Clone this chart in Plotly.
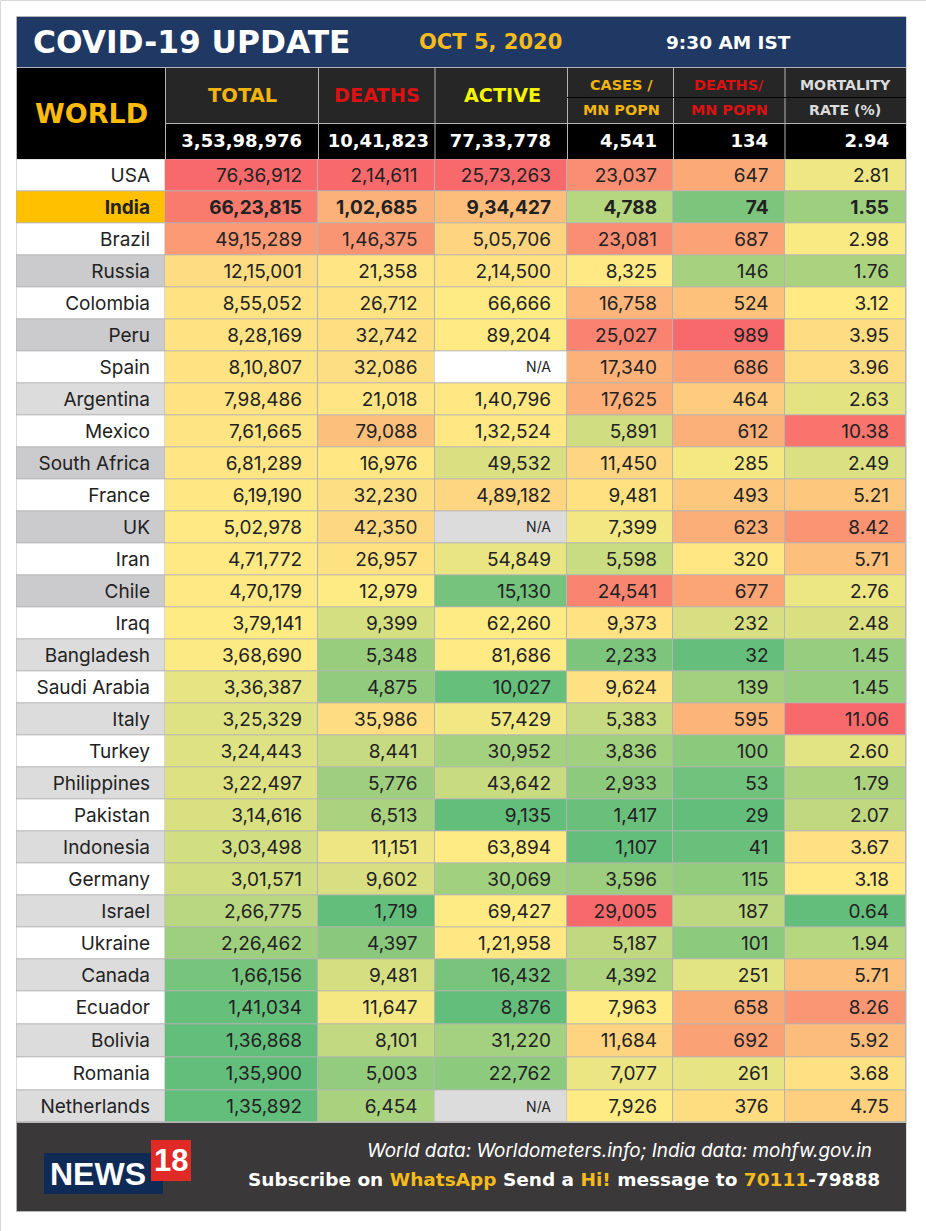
import numpy as np
import plotly.graph_objects as go

countries = ['USA', 'India', 'Brazil', 'Russia', 'Colombia', 'Peru', 'Spain', 'Argentina', 'Mexico',
             'South Africa', 'France', 'UK', 'Iran', 'Chile', 'Iraq', 'Bangladesh', 'Saudi Arabia', 'Italy',
             'Turkey', 'Philippines', 'Pakistan', 'Indonesia', 'Germany', 'Israel', 'Ukraine', 'Canada',
             'Ecuador', 'Bolivia', 'Romania', 'Netherlands']
total = ['76,36,912', '66,23,815', '49,15,289', '12,15,001', '8,55,052', '8,28,169', '8,10,807', '7,98,486',
         '7,61,665', '6,81,289', '6,19,190', '5,02,978', '4,71,772', '4,70,179', '3,79,141', '3,68,690',
         '3,36,387', '3,25,329', '3,24,443', '3,22,497', '3,14,616', '3,03,498', '3,01,571', '2,66,775',
         '2,26,462', '1,66,156', '1,41,034', '1,36,868', '1,35,900', '1,35,892']
deaths = ['2,14,611', '1,02,685', '1,46,375', '21,358', '26,712', '32,742', '32,086', '21,018', '79,088',
          '16,976', '32,230', '42,350', '26,957', '12,979', '9,399', '5,348', '4,875', '35,986', '8,441',
          '5,776', '6,513', '11,151', '9,602', '1,719', '4,397', '9,481', '11,647', '8,101', '5,003', '6,454']
active = ['25,73,263', '9,34,427', '5,05,706', '2,14,500', '66,666', '89,204', 'N/A', '1,40,796', '1,32,524',
          '49,532', '4,89,182', 'N/A', '54,849', '15,130', '62,260', '81,686', '10,027', '57,429', '30,952',
          '43,642', '9,135', '63,894', '30,069', '69,427', '1,21,958', '16,432', '8,876', '31,220', '22,762',
          'N/A']
cases_mn = ['23,037', '4,788', '23,081', '8,325', '16,758', '25,027', '17,340', '17,625', '5,891', '11,450',
            '9,481', '7,399', '5,598', '24,541', '9,373', '2,233', '9,624', '5,383', '3,836', '2,933', '1,417',
            '1,107', '3,596', '29,005', '5,187', '4,392', '7,963', '11,684', '7,077', '7,926']
deaths_mn = ['647', '74', '687', '146', '524', '989', '686', '464', '612', '285', '493', '623', '320', '677',
             '232', '32', '139', '595', '100', '53', '29', '41', '115', '187', '101', '251', '658', '692',
             '261', '376']
mortality = ['2.81', '1.55', '2.98', '1.76', '3.12', '3.95', '3.96', '2.63', '10.38', '2.49', '5.21', '8.42',
             '5.71', '2.76', '2.48', '1.45', '1.45', '11.06', '2.60', '1.79', '2.07', '3.67', '3.18', '0.64',
             '1.94', '5.71', '8.26', '5.92', '3.68', '4.75']
world_totals = ['3,53,98,976', '10,41,823', '77,33,778', '4,541', '134', '2.94']
columns = [total, deaths, active, cases_mn, deaths_mn, mortality]

# 0 white, 1 dark grey, 2 light grey, 3 india amber
label_shade = [0, 3, 0, 1, 0, 1, 0, 2, 0, 1, 0, 1, 0, 1, 0, 2, 0, 2, 0, 2, 0, 2, 0, 2, 0, 2, 0, 2, 0, 2]
na_shade = {'Spain': 0, 'UK': 2, 'Netherlands': 2}
shades = ['#ffffff', '#cbcbcd', '#dcdcdc', '#ffc000']

col_edges = [16.5, 165, 318, 434.5, 567, 673, 784.5, 906]
row_heights = [32] * 26 + [33.2, 33, 33.2, 31.6]
row_edges = list(159.3 + np.concatenate([[0], np.cumsum(row_heights)]))
text_pad = [16, 17, 16, 16, 16, 17]
total_ends = [302, 429, 551, 657, 768, 889]
row_mid = [(row_edges[i] + row_edges[i + 1]) / 2 + 1.5 for i in range(len(countries))]

FONT = 'Inter'
HEAD = 'DejaVu Sans'
GOLD = '#f5bb1a'
GRID = '#b4b4b4'


def to_num(s):
    return np.nan if s == 'N/A' else float(s.replace(',', ''))


def excel_scale(vals):
    # same thing as excel's green/yellow/red 3 colour scale, run per column
    v = np.array([to_num(s) for s in vals])
    lo, mid, hi = np.nanmin(v), np.nanmedian(v), np.nanmax(v)
    return np.where(v >= mid, (v - mid) / (hi - mid), (v - mid) / (mid - lo))


z = np.array([excel_scale(c) for c in columns]).T
z = [[None if np.isnan(x) else float(x) for x in row] for row in z]

base = [[label_shade[i]] + [None] * 6 for i in range(len(countries))]
for i, c in enumerate(countries):
    if c in na_shade:
        base[i][3] = na_shade[c]

fig = go.Figure()

fig.add_trace(go.Heatmap(z=base, x=col_edges, y=row_edges, zmin=0, zmax=3, showscale=False, xgap=1, ygap=1,
                         colorscale=[[0, shades[0]], [0.33, shades[0]], [0.33, shades[1]], [0.66, shades[1]],
                                     [0.66, shades[2]], [0.99, shades[2]], [0.99, shades[3]], [1, shades[3]]],
                         hoverinfo='skip'))
fig.add_trace(go.Heatmap(z=z, x=col_edges[1:], y=row_edges, zmin=-1, zmax=1, showscale=False, xgap=1, ygap=1,
                         colorscale=[[0, '#63BE7B'], [0.5, '#FFEB84'], [1, '#F8696B']], hoverinfo='skip'))

# country names
fig.add_trace(go.Scatter(x=[col_edges[1] - 15] * len(countries), y=row_mid,
                         text=countries, mode='text', textposition='middle left', hoverinfo='skip',
                         textfont=dict(family=FONT, size=19, color='#222222',
                                       weight=[700 if c == 'India' else 400 for c in countries])))

# the six value columns
for j, col in enumerate(columns):
    fig.add_trace(go.Scatter(x=[col_edges[j + 2] - text_pad[j]] * len(col), y=row_mid,
                             text=col, mode='text', textposition='middle left', hoverinfo='skip',
                             textfont=dict(family=FONT, color='#222222',
                                           size=[14 if s == 'N/A' else 19 for s in col],
                                           weight=[700 if countries[i] == 'India' else 400
                                                   for i, s in enumerate(col)])))

fig.add_trace(go.Scatter(x=total_ends, y=[142] * 6, text=world_totals, mode='text',
                         textposition='middle left', hoverinfo='skip',
                         textfont=dict(family=HEAD, size=18, color='white', weight=700)))


def box(x0, y0, x1, y1, fill, line=None):
    fig.add_shape(type='rect', x0=x0, y0=y0, x1=x1, y1=y1, fillcolor=fill, layer='below',
                  line=dict(color=line, width=1) if line else dict(width=0))


def label(x, y, txt, size, color='white', anchor='center', family=HEAD, weight=700, italic=False):
    fig.add_annotation(x=x, y=y, text=txt, showarrow=False, xanchor=anchor, yanchor='middle',
                       font=dict(family=family, size=size, color=color, weight=weight,
                                 style='italic' if italic else 'normal'))


box(0.5, 0.5, 930, 1235, 'white', '#d8d8d8')  # page edge
box(16.5, 16.5, 906, 1211.5, GRID, GRID)
box(17, 17, 906, 67, '#1f3864')
box(17, 68, 165, 159, '#000000')
for a, b in zip(col_edges[1:-1], col_edges[2:]):
    box(a + 1, 68, b, 123, '#262626')
    box(a + 1, 124, b, 159, '#000000')
fig.add_shape(type='line', x0=567, x1=906, y0=97.5, y1=97.5, line=dict(color='#000000', width=1), layer='below')
box(17, 1123, 906, 1211, '#3a3839')

# logo
fig.add_shape(type='rect', x0=44, x1=163, y0=1153, y1=1194, fillcolor='#0f2a55', line_width=0)
fig.add_shape(type='rect', x0=151, x1=191, y0=1140, y1=1181, fillcolor='#e02a26', line_width=0)
label(98, 1174, 'NEWS', 32, family='Liberation Sans')
label(171, 1160, '18', 31, family='Liberation Sans')

label(31, 42, 'COVID-19 UPDATE', 31.3, anchor='left')
label(417, 42, 'OCT 5, 2020', 21, GOLD, anchor='left')
label(664, 42, '9:30 AM IST', 18.5, anchor='left')
label(91, 113, 'WORLD', 27, '#fdbb0b')
label(242, 95, 'TOTAL', 19.5, '#f2b50f')
label(377, 95, 'DEATHS', 19.3, '#dd1111')
label(502, 95, 'ACTIVE', 19.2, '#f5f500')
label(621, 85, 'CASES /', 14.4, '#f2b50f')
label(621, 110, 'MN POPN', 14.4, '#f2b50f')
label(729, 85, 'DEATHS/', 14.4, '#dd1111')
label(729, 110, 'MN POPN', 14.4, '#dd1111')
label(845, 85, 'MORTALITY', 14.2, '#dcdcdc')
label(845, 110, 'RATE (%)', 14.2, '#dcdcdc')
label(874, 1150, 'World data: Worldometers.info; India data: mohfw.gov.in', 18.9, anchor='right',
      family=FONT, weight=400, italic=True)
label(882, 1179,
      'Subscribe on <span style="color:#f5bb1a">WhatsApp</span> Send a <span style="color:#f5bb1a">Hi!</span> '
      'message to <span style="color:#f5bb1a">70111</span>-79888', 18.5, anchor='right')

fig.update_layout(width=926, height=1231, margin=dict(l=0, r=0, t=0, b=0), showlegend=False,
                  paper_bgcolor='white', plot_bgcolor='white',
                  xaxis=dict(range=[0, 926], visible=False, fixedrange=True),
                  yaxis=dict(range=[1231, 0], visible=False, fixedrange=True))

fig.write_html("out.html", config=dict(displayModeBar=False),
               post_script="document.body.style.margin='0';document.body.style.overflow='hidden';")
